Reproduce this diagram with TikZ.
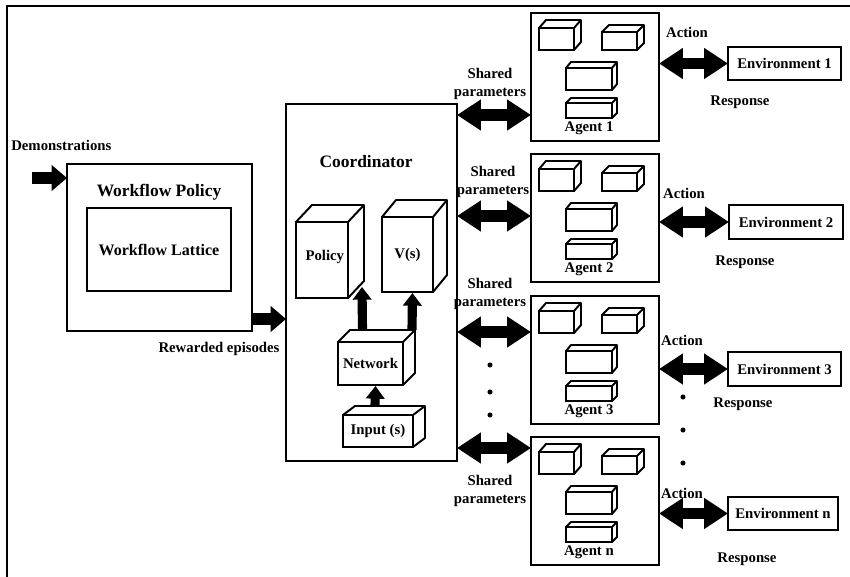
\documentclass[tikz,border=0pt]{standalone}
\usepackage{xcolor}
\usepackage{fontspec}
\setmainfont{Liberation Serif}
\usepackage{tikz}
\usetikzlibrary{arrows.meta}
\usetikzlibrary{calc}
\usetikzlibrary{fit}

\newcommand{\px}{0.025cm}
\tikzset{
  box/.style={draw,line width=1.4pt,inner sep=0pt,outer sep=0pt},
  lbl/.style={font=\fontsize{10.5}{12.8}\selectfont\bfseries,align=center,inner sep=0pt},
  ttl/.style={font=\fontsize{12.4}{14}\selectfont\bfseries,inner sep=0pt},
  uparrow/.style={line width=6.5pt,-{Triangle[length=9pt,width=13pt]}},
  bigarrow/.style={line width=8pt,-{Triangle[length=11pt,width=18pt]}},
  dblarrow/.style={line width=8pt,{Triangle[length=17pt,width=21pt]}-{Triangle[length=17pt,width=21pt]}},
  dot/.style={circle,fill,inner sep=0pt,minimum size=3.6pt}
}
\newcommand{\cubeside}[3]{%
  \draw[box,line join=round] (#1.north west) -- ++(#2,-#3) -- ($(#1.north east)+(#2,-#3)$) -- ($(#1.south east)+(#2,-#3)$) -- (#1.south east);
  \draw[box] (#1.north east) -- ++(#2,-#3);}
\newcommand{\agentbox}[3]{%
  \node[box,fit={(531,#2) (659,#2+128)}] (#1) {};
  \node[box,fit={(539,#2+15) (574,#2+37)}] (#1a) {};
  \cubeside{#1a}{7}{8}
  \node[box,fit={(602,#2+19) (637,#2+37)}] (#1b) {};
  \cubeside{#1b}{7}{7}
  \node[box,fit={(566,#2+55) (612,#2+77)}] (#1c) {};
  \cubeside{#1c}{5}{6}
  \node[box,fit={(566,#2+90) (612,#2+105)}] (#1d) {};
  \cubeside{#1d}{5}{5}
  \node[lbl] (#1lbl) at (589,#2+115) {Agent #3};}

\begin{document}
\begin{tikzpicture}[x=\px,y=-\px]
\useasboundingbox (0,0) rectangle (850,577);
\draw[line width=0.9pt] (850,6) -- (7,6) -- (7,577);

\node[lbl,anchor=west] (demo) at (11,145) {Demonstrations};
\node[box,fit={(67,164) (252,331)}] (wpolicy) {};
\node[ttl] (wptitle) at (159,192) {Workflow Policy};
\node[box,fit={(87,208) (231,291)},label={[ttl,font=\fontsize{11.4}{13}\selectfont\bfseries]center:Workflow Lattice}] (lattice) {};
\node[lbl] (rew) at (219,349) {Rewarded episodes};

\node[box,fit={(286,104) (457,461)}] (coord) {};
\node[ttl] (coordtitle) at (366,162) {Coordinator};
\node[box,fit={(296,222) (348,298)},label={[lbl,xshift=2pt,yshift=2pt]center:Policy}] (policy) {};
\cubeside{policy}{16}{17}
\node[box,fit={(382,217) (433,292)},label={[lbl]center:V(s)}] (value) {};
\cubeside{value}{14}{17}
\node[box,fit={(338,342) (403,385)},label={[lbl]center:Network}] (network) {};
\cubeside{network}{12}{12}
\node[box,fit={(343,415) (413,447)},label={[lbl]center:Input (s)}] (input) {};
\cubeside{input}{12}{9}

\coordinate (demoin) at (32,178);
\coordinate (rewout) at (0,319);
\draw[bigarrow] (demoin) -- (wpolicy.west |- demoin);
\draw[bigarrow] (wpolicy.east |- rewout) -- (coord.west |- rewout);
\draw[uparrow] ($(network.north)+(-8,-12)$) -- ($(policy.south east)+(14,-11)$);
\draw[uparrow] ($(network.north east)+(9,-12)$) -- ($(value.south)+(5,1)$);
\draw[uparrow] ($(input.north)+(-3,-9)$) -- ($(network.south)+(5,1)$);

\agentbox{agent1}{13}{1}
\agentbox{agent2}{154}{2}
\agentbox{agent3}{296}{3}
\agentbox{agentn}{437}{n}

\coordinate (s1) at (0,115);
\coordinate (s2) at (0,216);
\coordinate (s3) at (0,332);
\coordinate (s4) at (0,448);
\draw[dblarrow] (coord.east |- s1) -- (agent1.west |- s1);
\draw[dblarrow] (coord.east |- s2) -- (agent2.west |- s2);
\draw[dblarrow] (coord.east |- s3) -- (agent3.west |- s3);
\draw[dblarrow] (coord.east |- s4) -- (agentn.west |- s4);
\node[lbl] (sp1) at (490,84) {Shared\\parameters};
\node[lbl] (sp2) at (493,182) {Shared\\parameters};
\node[lbl] (sp3) at (490,294) {Shared\\parameters};
\node[lbl] (sp4) at (490,491) {Shared\\parameters};
\node[dot] (ld1) at (490,365) {};
\node[dot] (ld2) at (490,392) {};
\node[dot] (ld3) at (490,415) {};

\node[box,fit={(728,47) (841,80)},label={[lbl]center:Environment 1}] (env1) {};
\node[box,fit={(729,205) (843,239)},label={[lbl]center:Environment 2}] (env2) {};
\node[box,fit={(728,352) (841,386)},label={[lbl]center:Environment 3}] (env3) {};
\node[box,fit={(728,497) (838,530)},label={[lbl]center:Environment n}] (envn) {};
\draw[dblarrow] (agent1.east |- env1) -- (env1.west);
\draw[dblarrow] (agent2.east |- env2) -- (env2.west);
\draw[dblarrow] (agent3.east |- env3) -- (env3.west);
\draw[dblarrow] (agentn.east |- envn) -- (envn.west);
\node[lbl] (act1) at (687,32) {Action};
\node[lbl] (act2) at (684,193) {Action};
\node[lbl] (act3) at (682,340) {Action};
\node[lbl] (actn) at (682,493) {Action};
\node[lbl] (resp1) at (740,102) {Response};
\node[lbl] (resp2) at (745,262) {Response};
\node[lbl] (resp3) at (743,404) {Response};
\node[lbl] (respn) at (747,559) {Response};
\node[dot] (rd1) at (683,397) {};
\node[dot] (rd2) at (683,430) {};
\node[dot] (rd3) at (683,463) {};
\end{tikzpicture}
\end{document}
